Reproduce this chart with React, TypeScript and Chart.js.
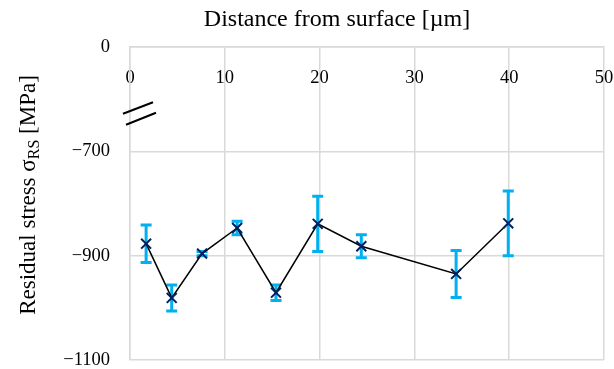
import React, { useEffect, useRef } from "react";
import { Chart, registerables } from "chart.js";

Chart.register(...registerables);

const distances = [1.7, 4.4, 7.6, 11.3, 15.4, 19.8, 24.4, 34.4, 39.9];
const stresses = [-877, -981, -896, -847, -971, -839, -882, -935, -838];
const errors = [36, 25, 4, 13, 15, 53, 22, 45, 62];
const xTicks = [0, 10, 20, 30, 40, 50];
const yTickValues = [-1100, -900, -700, -500];
const yTickLabels = ["−1100", "−900", "−700", "0"];
const xTitle = "Distance from surface [µm]";

const FONT = "'Liberation Serif', serif";

const errorBarPlugin = {
  id: "errorBars",
  beforeDatasetsDraw(chart: any) {
    const ctx = chart.ctx;
    const xs = chart.scales.x;
    const ys = chart.scales.y;
    ctx.save();
    ctx.strokeStyle = "#00B0F0";
    ctx.lineWidth = 3;
    distances.forEach((d, i) => {
      const px = xs.getPixelForValue(d);
      const top = ys.getPixelForValue(stresses[i] + errors[i]);
      const bot = ys.getPixelForValue(stresses[i] - errors[i]);
      ctx.beginPath();
      ctx.moveTo(px, top);
      ctx.lineTo(px, bot);
      ctx.moveTo(px - 5.5, top);
      ctx.lineTo(px + 5.5, top);
      ctx.moveTo(px - 5.5, bot);
      ctx.lineTo(px + 5.5, bot);
      ctx.stroke();
    });
    ctx.restore();
  },
};

const decorPlugin = {
  id: "decor",
  afterDraw(chart: any) {
    const ctx = chart.ctx;
    const area = chart.chartArea;
    const ys = chart.scales.y;
    // axis break marks
    const cy = ys.getPixelForValue(-627);
    const lx = area.left;
    ctx.save();
    ctx.strokeStyle = "#000";
    ctx.lineWidth = 2;
    ctx.beginPath();
    ctx.moveTo(lx - 7, cy + 0.5);
    ctx.lineTo(lx + 23, cy - 11);
    ctx.moveTo(lx - 4, cy + 11.5);
    ctx.lineTo(lx + 26, cy - 0.5);
    ctx.stroke();
    ctx.restore();

    // x axis title
    ctx.save();
    ctx.fillStyle = "#000";
    ctx.font = `24px ${FONT}`;
    ctx.textAlign = "center";
    ctx.textBaseline = "middle";
    ctx.fillText(xTitle, area.left + 207, 20);
    ctx.restore();

    // y axis title with subscript
    ctx.save();
    ctx.translate(29, area.top + 148);
    ctx.rotate(-Math.PI / 2);
    ctx.fillStyle = "#000";
    ctx.textBaseline = "middle";
    const mainFont = `23px ${FONT}`;
    const subFont = `16px ${FONT}`;
    const p1 = "Residual stress σ";
    const p2 = "RS";
    const p3 = " [MPa]";
    ctx.font = mainFont;
    const w1 = ctx.measureText(p1).width;
    const w3 = ctx.measureText(p3).width;
    ctx.font = subFont;
    const w2 = ctx.measureText(p2).width;
    const total = w1 + w2 + w3;
    let x = -total / 2;
    ctx.font = mainFont;
    ctx.textAlign = "left";
    ctx.fillText(p1, x, 0);
    x += w1;
    ctx.font = subFont;
    ctx.fillText(p2, x, 6);
    x += w2;
    ctx.font = mainFont;
    ctx.fillText(p3, x, 0);
    ctx.restore();
  },
};

export default function App() {
  const ref = useRef<HTMLCanvasElement>(null);
  useEffect(() => {
    document.body.style.margin = "0";
    const chart = new Chart(ref.current!, {
      type: "line",
      data: {
        datasets: [
          {
            data: distances.map((d, i) => ({ x: d, y: stresses[i] })),
            borderColor: "#000000",
            borderWidth: 1.5,
            pointStyle: "crossRot",
            pointRadius: 7,
            pointBorderColor: "#002060",
            pointBorderWidth: 2,
            tension: 0,
          },
        ],
      },
      options: {
        responsive: false,
        maintainAspectRatio: false,
        animation: false,
        layout: { padding: { left: 0, right: 10, top: 0, bottom: 7 } },
        plugins: { legend: { display: false }, tooltip: { enabled: false } },
        scales: {
          x: {
            type: "linear",
            position: "top",
            min: 0,
            max: 50,
            afterBuildTicks: (s: any) => {
              s.ticks = xTicks.map((v) => ({ value: v }));
            },
            grid: { color: "#D9D9D9", lineWidth: 1.5, drawTicks: false },
            border: { color: "#D9D9D9", width: 1.5 },
            ticks: {
              mirror: true,
              padding: 20,
              color: "#000",
              font: { family: FONT, size: 18.5 },
              maxRotation: 0,
            },
            afterFit: (s: any) => {
              s.height = 47;
              s.paddingLeft = 0;
              s.paddingRight = 0;
            },
          },
          y: {
            type: "linear",
            min: -1100,
            max: -500,
            afterBuildTicks: (s: any) => {
              s.ticks = yTickValues.map((v) => ({ value: v }));
            },
            grid: { color: "#D9D9D9", lineWidth: 1.5, drawTicks: false },
            border: { color: "#D9D9D9", width: 1.5 },
            ticks: {
              padding: 20,
              color: "#000",
              font: { family: FONT, size: 18.5 },
              callback: (v: any) => {
                const i = yTickValues.indexOf(Number(v));
                return i >= 0 ? yTickLabels[i] : "";
              },
            },
            afterFit: (s: any) => {
              s.width = 130;
              s.paddingTop = 0;
              s.paddingBottom = 0;
            },
          },
        },
      },
      plugins: [errorBarPlugin, decorPlugin],
    });
    return () => chart.destroy();
  }, []);
  return (
    <div style={{ width: 614, height: 369 }}>
      <canvas ref={ref} width={614} height={369} style={{ display: "block" }} />
    </div>
  );
}
